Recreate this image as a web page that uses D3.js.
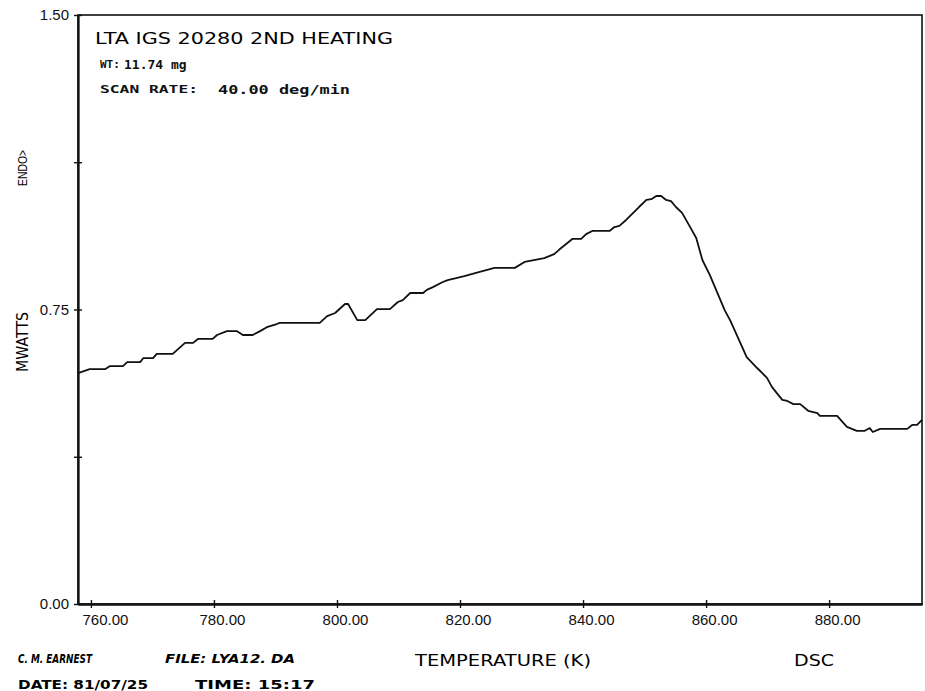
<!DOCTYPE html>
<html>
<head>
<meta charset="utf-8">
<script src="https://cdn.jsdelivr.net/npm/d3@7"></script>
<style>
  body { margin: 0; background: #fff; }
  .tick text { font-family: "Liberation Sans", Arial, sans-serif; font-size: 15px; fill: #111; }
  .plotter { font-family: "DejaVu Sans Mono", monospace; fill: #111; }
</style>
</head>
<body>
<div id="chart"></div>
<script>
// DSC scan, 2nd heating
var temps = [757.9, 759.8, 762.3, 763.1, 765.2, 765.9, 768.0, 768.5, 770.1, 770.7,
  773.3, 775.3, 776.6, 777.4, 779.8, 780.5, 782.1, 783.7, 784.7, 786.3,
  787.5, 788.6, 790.2, 790.7, 797.2, 798.4, 799.7, 801.3, 801.8, 803.3,
  804.6, 806.5, 808.6, 809.9, 810.7, 811.9, 814.0, 814.6, 815.6, 817.2,
  818.0, 820.7, 823.2, 825.6, 828.9, 830.5, 833.7, 835.3, 836.1, 838.3,
  839.7, 840.5, 841.5, 844.3, 845.1, 845.9, 847.0, 849.1, 850.3, 851.1,
  851.9, 852.7, 853.5, 854.3, 855.1, 856.1, 857.3, 858.4, 859.4, 860.6,
  862.2, 863.0, 863.9, 865.0, 866.6, 868.3, 869.9, 870.7, 871.5, 872.4,
  873.2, 874.2, 875.3, 876.6, 878.1, 878.5, 881.3, 882.9, 884.5, 885.8,
  886.6, 887.1, 888.3, 892.7, 893.5, 894.3, 895.1];
var mwatts = [0.588, 0.598, 0.598, 0.606, 0.606, 0.616, 0.616, 0.626, 0.626, 0.637,
  0.637, 0.665, 0.665, 0.675, 0.675, 0.685, 0.695, 0.695, 0.685, 0.685,
  0.695, 0.705, 0.713, 0.716, 0.716, 0.733, 0.741, 0.764, 0.764, 0.723,
  0.723, 0.751, 0.751, 0.769, 0.774, 0.792, 0.792, 0.800, 0.807, 0.820,
  0.825, 0.835, 0.846, 0.856, 0.856, 0.871, 0.881, 0.891, 0.902, 0.930,
  0.930, 0.942, 0.950, 0.950, 0.960, 0.963, 0.978, 1.011, 1.029, 1.031,
  1.039, 1.039, 1.029, 1.026, 1.011, 0.996, 0.963, 0.932, 0.876, 0.838,
  0.779, 0.749, 0.723, 0.685, 0.629, 0.601, 0.576, 0.553, 0.537, 0.520,
  0.517, 0.509, 0.509, 0.492, 0.486, 0.479, 0.479, 0.451, 0.441, 0.441,
  0.448, 0.438, 0.446, 0.446, 0.456, 0.456, 0.469];

var xTicks = [760, 780, 800, 820, 840, 860, 880];
var yTicks = [0, 0.375, 0.75, 1.125, 1.5];
var yLabelled = [0, 0.75, 1.5];

var W = 925, H = 691;
var margin = {top: 15, right: 3, bottom: 87, left: 78},
    width = W - margin.left - margin.right,
    height = H - margin.top - margin.bottom;

var svg = d3.select("#chart").append("svg")
  .attr("width", W)
  .attr("height", H);
var g = svg.append("g")
  .attr("transform", "translate(" + margin.left + "," + margin.top + ")");

var xScale = d3.scaleLinear().domain([757.9, 895.1]).range([0, width]);
var yScale = d3.scaleLinear().domain([0, 1.5]).range([height, 0]);

// frame (top and right edges)
g.append("rect")
  .attr("width", width).attr("height", height)
  .attr("fill", "none").attr("stroke", "#111").attr("stroke-width", 1.6);

// x axis: crossing ticks
var xAxis = g.append("g")
  .attr("transform", "translate(0," + height + ")")
  .call(d3.axisBottom(xScale).tickValues(xTicks).tickSizeInner(4).tickSizeOuter(0)
    .tickFormat(d3.format(".2f")).tickPadding(6));
xAxis.selectAll(".tick text").attr("dx", 8);
xAxis.selectAll(".tick").filter(function(d) { return d === 760; }).select("text").attr("dx", 14);
g.append("g")
  .attr("transform", "translate(0," + height + ")")
  .call(d3.axisTop(xScale).tickValues(xTicks).tickSizeInner(4).tickSizeOuter(0).tickFormat(""));

// y axis
var yAxis = g.append("g")
  .call(d3.axisLeft(yScale).tickValues(yTicks).tickSizeInner(4).tickSizeOuter(0)
    .tickPadding(5)
    .tickFormat(function(d) { return yLabelled.indexOf(d) >= 0 ? d3.format(".2f")(d) : ""; }));
g.append("g")
  .call(d3.axisRight(yScale).tickValues(yTicks).tickSizeInner(4).tickSizeOuter(0).tickFormat(""));

svg.selectAll(".domain").attr("stroke", "#111").attr("stroke-width", 1.8);
svg.selectAll(".tick line").attr("stroke", "#111").attr("stroke-width", 1.4);

// the trace
var points = temps.map(function(t, i) { return [t, mwatts[i]]; });
var line = d3.line()
  .x(function(d) { return xScale(d[0]); })
  .y(function(d) { return yScale(d[1]); });
g.append("path")
  .datum(points)
  .attr("fill", "none")
  .attr("stroke", "#111")
  .attr("stroke-width", 1.8)
  .attr("stroke-linejoin", "round")
  .attr("d", line);

// header text
g.append("text")
  .attr("x", 17).attr("y", 29)
  .attr("font-family", "DejaVu Sans, sans-serif")
  .attr("font-size", 16)
  .attr("textLength", 298).attr("lengthAdjust", "spacingAndGlyphs")
  .text("LTA IGS 20280 2ND HEATING");
g.append("text").attr("class", "plotter")
  .attr("x", 22).attr("y", 53).attr("font-size", 11).attr("font-weight", "bold")
  .text("WT:");
g.append("text").attr("class", "plotter")
  .attr("x", 46).attr("y", 54).attr("font-size", 13).attr("font-weight", "bold")
  .text("11.74 mg");
g.append("text").attr("class", "plotter")
  .attr("x", 22).attr("y", 78).attr("font-size", 11).attr("font-weight", "bold")
  .attr("textLength", 98).attr("lengthAdjust", "spacingAndGlyphs")
  .text("SCAN RATE:");
g.append("text").attr("class", "plotter")
  .attr("x", 140).attr("y", 79).attr("font-size", 13).attr("font-weight", "bold")
  .attr("textLength", 132).attr("lengthAdjust", "spacingAndGlyphs")
  .text("40.00 deg/min");

// y axis titles
svg.append("text")
  .attr("transform", "translate(27,168) rotate(-90)")
  .attr("text-anchor", "middle")
  .attr("font-family", "Liberation Sans, sans-serif")
  .attr("font-size", 12)
  .attr("textLength", 36).attr("lengthAdjust", "spacingAndGlyphs")
  .text("ENDO>");
svg.append("text")
  .attr("transform", "translate(28,342) rotate(-90)")
  .attr("text-anchor", "middle")
  .attr("font-family", "DejaVu Sans, sans-serif")
  .attr("font-size", 15)
  .attr("textLength", 60).attr("lengthAdjust", "spacingAndGlyphs")
  .text("MWATTS");

// footer
svg.append("text")
  .attr("x", 18).attr("y", 663)
  .attr("font-family", "DejaVu Sans, sans-serif")
  .attr("font-size", 13).attr("font-style", "italic").attr("font-weight", "bold")
  .attr("textLength", 74).attr("lengthAdjust", "spacingAndGlyphs")
  .text("C. M. EARNEST");
svg.append("text")
  .attr("x", 165).attr("y", 663)
  .attr("font-family", "DejaVu Sans, sans-serif")
  .attr("font-size", 13).attr("font-style", "italic").attr("font-weight", "bold")
  .attr("textLength", 130).attr("lengthAdjust", "spacingAndGlyphs")
  .text("FILE: LYA12. DA");
svg.append("text")
  .attr("x", 415).attr("y", 666)
  .attr("font-family", "DejaVu Sans, sans-serif")
  .attr("font-size", 16)
  .attr("textLength", 176).attr("lengthAdjust", "spacingAndGlyphs")
  .text("TEMPERATURE (K)");
svg.append("text")
  .attr("x", 794).attr("y", 666)
  .attr("font-family", "DejaVu Sans, sans-serif")
  .attr("font-size", 16)
  .attr("textLength", 40).attr("lengthAdjust", "spacingAndGlyphs")
  .text("DSC");
svg.append("text")
  .attr("x", 18).attr("y", 689)
  .attr("font-family", "DejaVu Sans, sans-serif")
  .attr("font-size", 12).attr("font-weight", "bold")
  .attr("textLength", 130).attr("lengthAdjust", "spacingAndGlyphs")
  .text("DATE: 81/07/25");
svg.append("text")
  .attr("x", 195).attr("y", 689)
  .attr("font-family", "DejaVu Sans, sans-serif")
  .attr("font-size", 12).attr("font-weight", "bold")
  .attr("textLength", 120).attr("lengthAdjust", "spacingAndGlyphs")
  .text("TIME: 15:17");
</script>
</body>
</html>
